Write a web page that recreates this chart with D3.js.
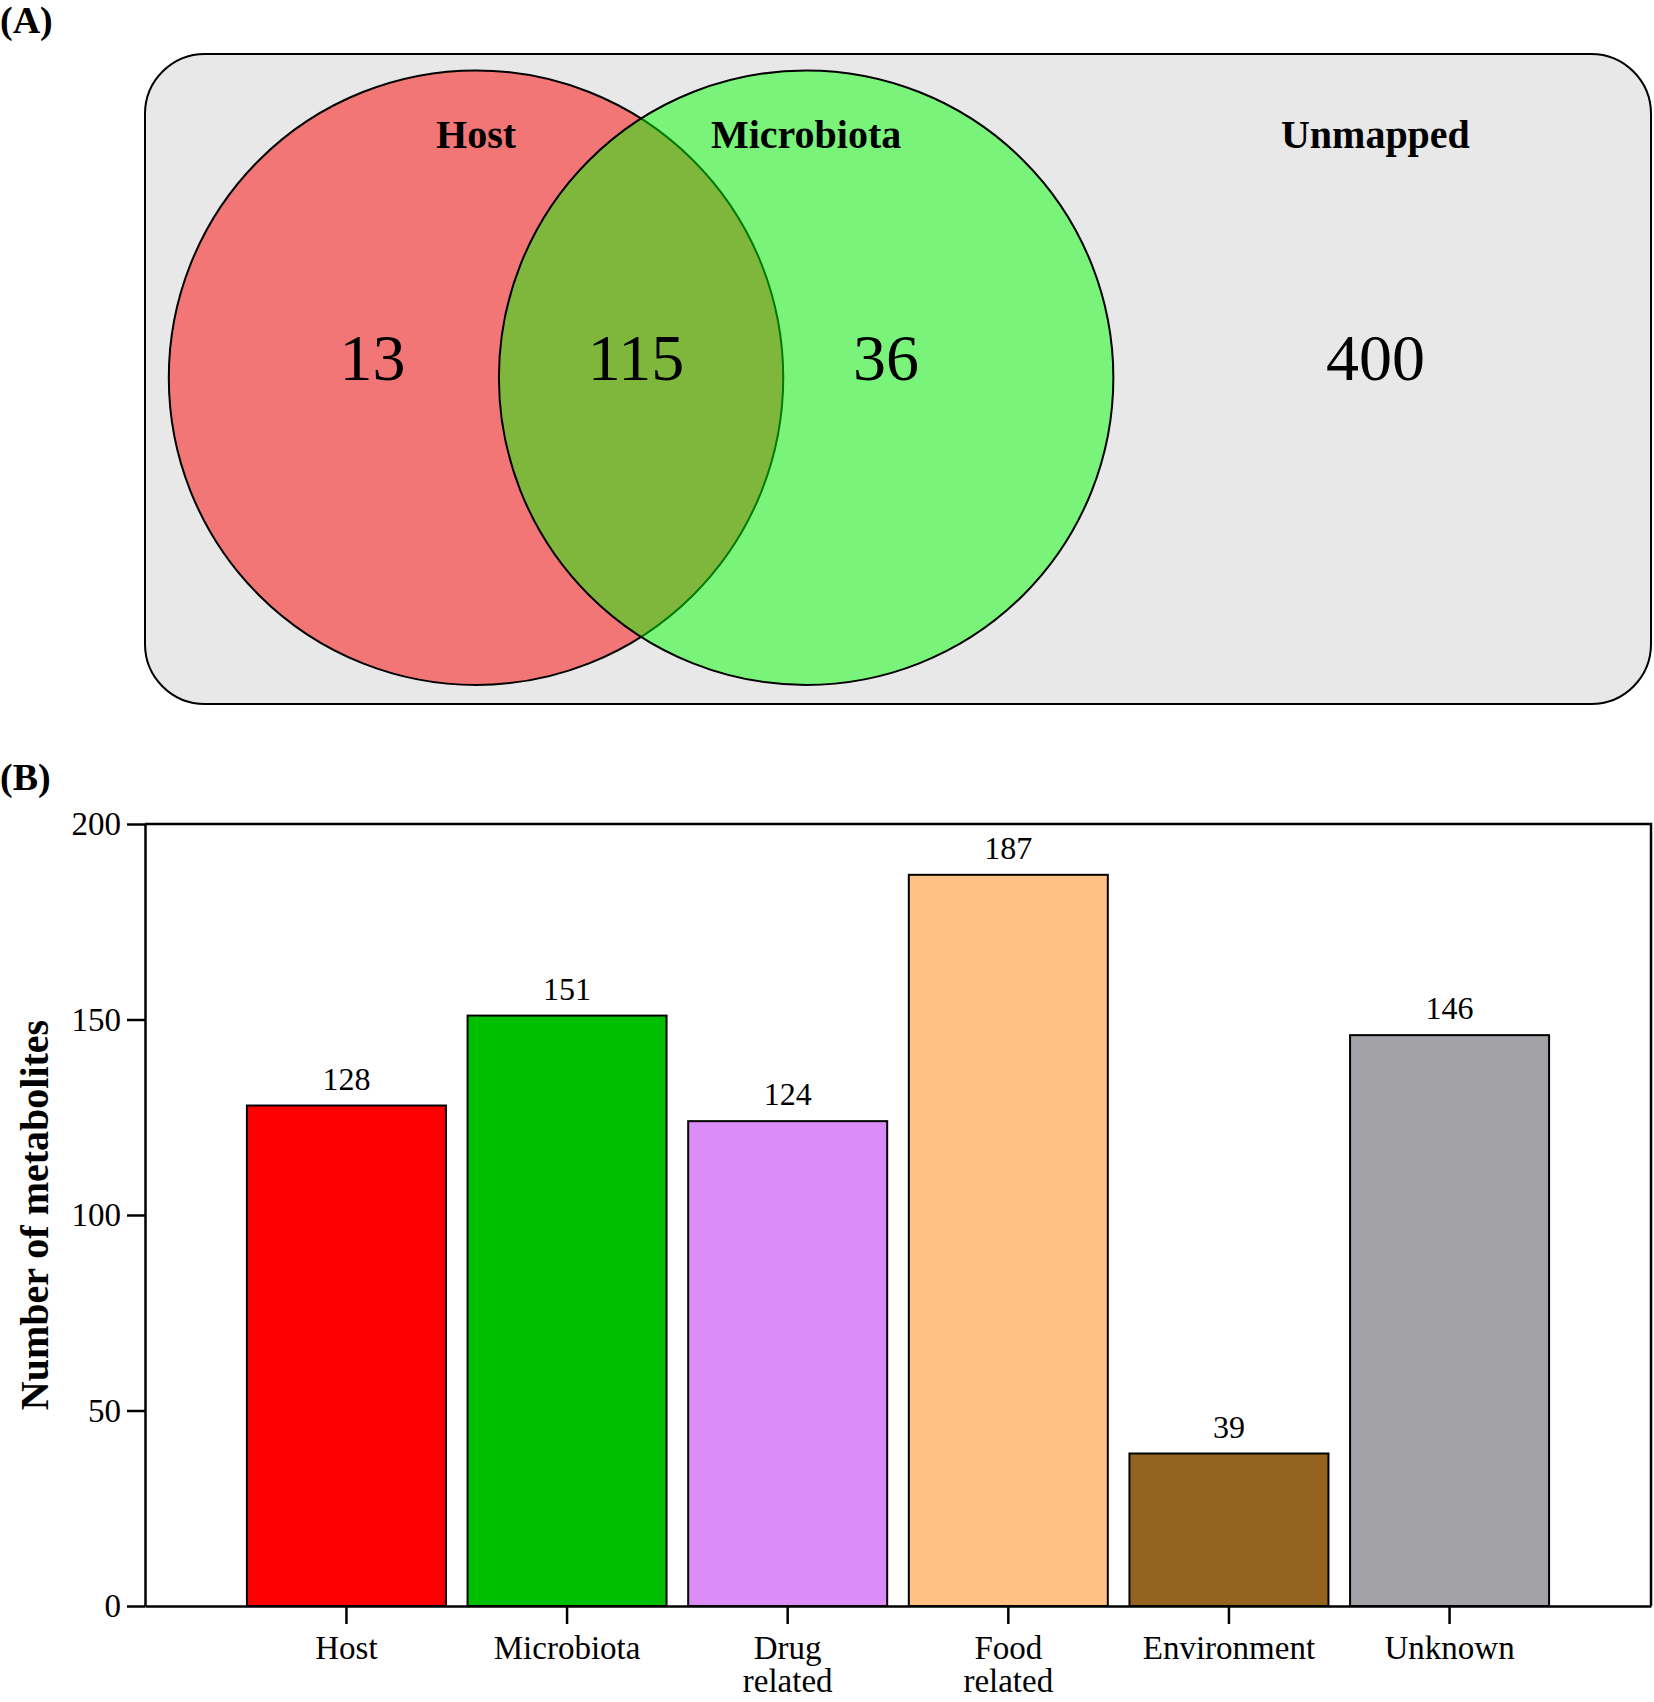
<!DOCTYPE html>
<html>
<head>
<meta charset="utf-8">
<script src="https://d3js.org/d3.v7.min.js"></script>
<style>
  body { margin: 0; background: #fff; }
  text { font-family: "Liberation Serif", "Times New Roman", serif; }
</style>
</head>
<body>
<div id="chart"></div>
<script>
// ---- data ----
var vennSets = ["Host", "Microbiota", "Unmapped"]
var vennRegions = ["Host only", "Host & Microbiota", "Microbiota only", "Unmapped"]
var vennCounts = [13, 115, 36, 400]

var categories = ["Host", "Microbiota", "Drug related", "Food related", "Environment", "Unknown"]
var counts = [128, 151, 124, 187, 39, 146]
var yTicks = [0, 50, 100, 150, 200]

var barColors = ["#ff0000", "#00bf00", "#dc8cf7", "#ffc184", "#956320", "#a2a1a6"]

const W = 1654, H = 1702

var svg = d3.select("#chart")
  .append("svg")
  .attr("width", W)
  .attr("height", H)

// panel letters
svg.append("text").attr("x", 0).attr("y", 33).text("(A)")
  .style("font-size", "38px").style("font-weight", "bold")
svg.append("text").attr("x", 0).attr("y", 790).text("(B)")
  .style("font-size", "38px").style("font-weight", "bold")

// ---- (A) venn ----
var box = { x: 145, y: 54, w: 1506, h: 650 }
// venn space: 0..100 across the box, 0..100 down the box
var vx = d3.scaleLinear().domain([0, 100]).range([box.x, box.x + box.w])
var vy = d3.scaleLinear().domain([0, 100]).range([box.y, box.y + box.h])
var vr = d3.scaleLinear().domain([0, 100]).range([0, box.w])

var gA = svg.append("g").attr("class", "Venn")

gA.append("rect")
  .attr("x", vx(0)).attr("y", vy(0))
  .attr("width", vr(100)).attr("height", box.h)
  .attr("rx", 60).attr("ry", 60)
  .style("fill", "#e8e8e8")
  .style("stroke", "#000")
  .style("stroke-width", 2)

var circles = [
  { name: vennSets[0], cx: 21.98, fill: "rgba(255,0,0,0.49)" },
  { name: vennSets[1], cx: 43.9, fill: "rgba(0,255,0,0.48)" }
]
gA.selectAll("circle")
  .data(circles)
  .enter()
  .append("circle")
  .attr("cx", d => vx(d.cx))
  .attr("cy", vy(49.8))
  .attr("r", vr(20.4))
  .style("fill", d => d.fill)
  .style("stroke", "#000")
  .style("stroke-width", 2)

// set names
var setLabelX = [21.98, 43.9, 81.7]
gA.selectAll(".setlabel")
  .data(vennSets)
  .enter()
  .append("text")
  .attr("class", "setlabel")
  .attr("x", (d, i) => vx(setLabelX[i]))
  .attr("y", vy(14.5))
  .attr("text-anchor", "middle")
  .style("font-size", "40px")
  .style("font-weight", "bold")
  .text(d => d)

// region counts
var regionX = [15.1, 32.6, 49.2, 81.7]
gA.selectAll(".count")
  .data(vennCounts)
  .enter()
  .append("text")
  .attr("class", "count")
  .attr("x", (d, i) => vx(regionX[i]))
  .attr("y", vy(50.2))
  .attr("text-anchor", "middle")
  .style("font-size", "66px")
  .text(d => d)

// ---- (B) bar chart ----
var plot = { left: 145, right: 1651, top: 824, bottom: 1606 }

var xScale = d3.scaleBand()
  .domain(categories)
  .range([plot.left, plot.right])
  .paddingInner(0.098)
  .paddingOuter(0.462)

var yScale = d3.scaleLinear()
  .domain([0, 200])
  .range([plot.bottom, plot.top])

var gB = svg.append("g").attr("class", "BarChart")

// frame (top + right)
gB.append("path")
  .attr("d", `M${plot.left},${yScale(200)}H${plot.right}V${yScale(0)}`)
  .style("fill", "none")
  .style("stroke", "#000")
  .style("stroke-width", 2.5)

gB.selectAll(".bar")
  .data(counts)
  .enter()
  .append("rect")
  .attr("class", "bar")
  .attr("x", (d, i) => xScale(categories[i]))
  .attr("y", d => yScale(d))
  .attr("width", xScale.bandwidth())
  .attr("height", d => yScale(0) - yScale(d))
  .style("fill", (d, i) => barColors[i])
  .style("stroke", "#000")
  .style("stroke-width", 2)

gB.selectAll(".val")
  .data(counts)
  .enter()
  .append("text")
  .attr("class", "val")
  .attr("x", (d, i) => xScale(categories[i]) + xScale.bandwidth() / 2)
  .attr("y", d => yScale(d) - 16)
  .attr("text-anchor", "middle")
  .style("font-size", "32px")
  .text(d => d)

var gY = gB.append("g")
  .attr("class", "VerticalAxis")
  .attr("transform", `translate(${plot.left},0)`)
  .call(d3.axisLeft(yScale).tickValues(yTicks).tickSize(18).tickPadding(6).tickSizeOuter(0))
gY.select(".domain").style("stroke-width", 2.5)
gY.selectAll(".tick line").style("stroke-width", 2.5)
gY.selectAll(".tick text")
  .style("font-size", "33px")
  .style("font-family", '"Liberation Serif", serif')
  .style("fill", "#000")

var gX = gB.append("g")
  .attr("class", "HorizontalAxis")
  .attr("transform", `translate(0,${plot.bottom})`)
  .call(d3.axisBottom(xScale).tickSize(18).tickSizeOuter(0))
gX.select(".domain").style("stroke-width", 2.5)
gX.selectAll(".tick line").style("stroke-width", 2.5)
gX.selectAll(".tick text").remove()
gX.selectAll(".tick")
  .append("text")
  .attr("y", 53)
  .attr("text-anchor", "middle")
  .style("font-size", "33px")
  .style("font-family", '"Liberation Serif", serif')
  .style("fill", "#000")
  .each(function(d) {
    var words = d.split(" ")
    var t = d3.select(this)
    words.forEach(function(w, i) {
      t.append("tspan").attr("x", 0).attr("dy", i == 0 ? 0 : "1.0em").text(w)
    })
  })

// y axis name
gB.append("text")
  .attr("transform", `translate(${48},${(plot.top + plot.bottom) / 2}) rotate(-90)`)
  .attr("text-anchor", "middle")
  .style("font-size", "40px")
  .style("font-weight", "bold")
  .text("Number of metabolites")
</script>
</body>
</html>
